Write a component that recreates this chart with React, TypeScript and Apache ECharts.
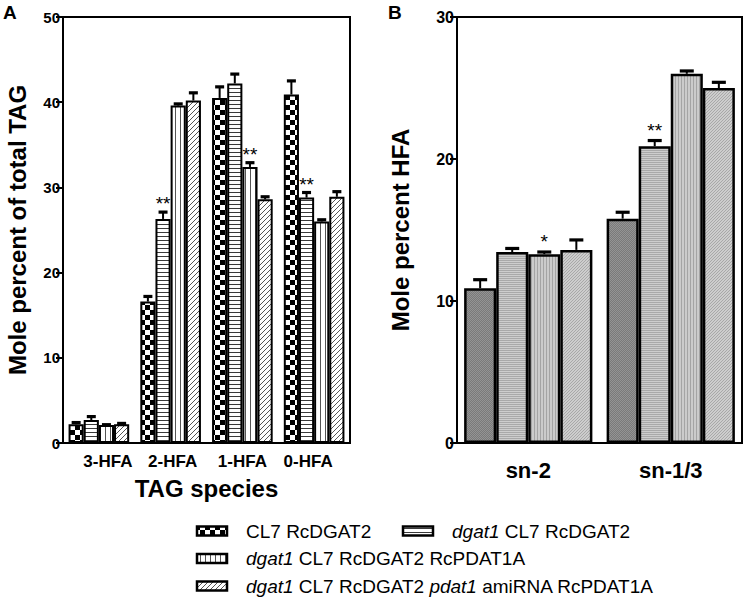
import React, { useEffect, useRef } from 'react';
import * as echarts from 'echarts';

const FONT = 'Arial, "Liberation Sans", Helvetica, sans-serif';

// ---------- data ----------
const seriesNames = [
  'CL7 RcDGAT2',
  'dgat1 CL7 RcDGAT2',
  'dgat1 CL7 RcDGAT2 RcPDAT1A',
  'dgat1 CL7 RcDGAT2 pdat1 amiRNA RcPDAT1A',
];

// Panel A: TAG species
const categoriesA = ['3-HFA', '2-HFA', '1-HFA', '0-HFA'];
const cl7A = [2.2, 16.6, 40.5, 40.9];
const cl7AErr = [0.2, 0.6, 1.3, 1.6];
const dgat1A = [2.7, 26.3, 42.2, 28.8];
const dgat1AErr = [0.4, 0.8, 1.1, 0.6];
const pdatA = [2.1, 39.6, 32.4, 26.0];
const pdatAErr = [0.05, 0.2, 0.5, 0.2];
const amiA = [2.2, 40.2, 28.6, 28.9];
const amiAErr = [0.1, 0.9, 0.3, 0.6];
const cl7ASig = ['', '', '', ''];
const dgat1ASig = ['', '**', '', '**'];
const pdatASig = ['', '', '**', ''];
const amiASig = ['', '', '', ''];
const ticksA = { min: 0, max: 50, interval: 10 };

// Panel B: positional HFA
const categoriesB = ['sn-2', 'sn-1/3'];
const cl7B = [10.9, 15.8];
const cl7BErr = [0.6, 0.45];
const dgat1B = [13.45, 20.9];
const dgat1BErr = [0.25, 0.4];
const pdatB = [13.3, 26.0];
const pdatBErr = [0.15, 0.2];
const amiB = [13.6, 25.0];
const amiBErr = [0.7, 0.4];
const cl7BSig = ['', ''];
const dgat1BSig = ['', '**'];
const pdatBSig = ['*', ''];
const amiBSig = ['', ''];
const ticksB = { min: 0, max: 30, interval: 10 };

// horizontal nudges of panel A category labels (px), as in the original figure
const labelShiftA = [9, 2, 0, -6];

// ---------- patterns ----------
function makePattern(w: number, h: number, draw: (ctx: CanvasRenderingContext2D) => void) {
  const c = document.createElement('canvas');
  c.width = w;
  c.height = h;
  const ctx = c.getContext('2d') as CanvasRenderingContext2D;
  draw(ctx);
  return { image: c.toDataURL(), repeat: 'repeat', imageWidth: w, imageHeight: h } as any;
}

function buildPatterns() {
  const checker = makePattern(10, 10, (ctx) => {
    ctx.fillStyle = '#fff';
    ctx.fillRect(0, 0, 10, 10);
    ctx.fillStyle = '#000';
    ctx.fillRect(0, 0, 5, 5);
    ctx.fillRect(5, 5, 5, 5);
  });
  const horiz = makePattern(4, 4, (ctx) => {
    ctx.fillStyle = '#fff';
    ctx.fillRect(0, 0, 4, 4);
    ctx.fillStyle = '#3a3a3a';
    ctx.fillRect(0, 0, 4, 1);
  });
  const vert = makePattern(5, 5, (ctx) => {
    ctx.fillStyle = '#fff';
    ctx.fillRect(0, 0, 5, 5);
    ctx.fillStyle = '#555';
    ctx.fillRect(0, 0, 1, 5);
  });
  const diag = makePattern(5, 5, (ctx) => {
    ctx.fillStyle = '#fff';
    ctx.fillRect(0, 0, 5, 5);
    ctx.fillStyle = '#555';
    for (let k = 0; k < 5; k++) {
      ctx.fillRect(k, 4 - k, 1, 1);
    }
  });
  // Panel B grey textures
  const gCross = makePattern(2, 2, (ctx) => {
    ctx.fillStyle = '#7a7a7a';
    ctx.fillRect(0, 0, 2, 2);
    ctx.fillStyle = '#949494';
    ctx.fillRect(0, 0, 1, 1);
    ctx.fillRect(1, 1, 1, 1);
  });
  const gHoriz = makePattern(2, 2, (ctx) => {
    ctx.fillStyle = '#cdcdcd';
    ctx.fillRect(0, 0, 2, 2);
    ctx.fillStyle = '#a9a9a9';
    ctx.fillRect(0, 0, 2, 1);
  });
  const gVert = makePattern(3, 3, (ctx) => {
    ctx.fillStyle = '#cbcbcb';
    ctx.fillRect(0, 0, 3, 3);
    ctx.fillStyle = '#a4a4a4';
    ctx.fillRect(0, 0, 1, 3);
  });
  const gDiag = makePattern(3, 3, (ctx) => {
    ctx.fillStyle = '#cdcdcd';
    ctx.fillRect(0, 0, 3, 3);
    ctx.fillStyle = '#a8a8a8';
    ctx.fillRect(0, 2, 1, 1);
    ctx.fillRect(1, 1, 1, 1);
    ctx.fillRect(2, 0, 1, 1);
  });
  return { A: [checker, horiz, vert, diag], B: [gCross, gHoriz, gVert, gDiag] };
}

const GAP_A = 0.155;
const GAP_B = 0.1;

function barSeries(name: string, data: number[], fill: any, axisIdx: number, gap: number, bw: number) {
  return {
    name,
    type: 'bar',
    xAxisIndex: axisIdx,
    yAxisIndex: axisIdx,
    data,
    barGap: '0%',
    barCategoryGap: `${gap * 100}%`,
    itemStyle: { color: fill, borderColor: '#000', borderWidth: bw },
    emphasis: { disabled: true },
    z: 2,
  };
}

function errSeries(
  values: number[],
  errs: number[],
  sigs: string[],
  idx: number,
  n: number,
  gap: number,
  axisIdx: number,
  capW: number,
  sigOffset: number
) {
  return {
    type: 'custom',
    xAxisIndex: axisIdx,
    yAxisIndex: axisIdx,
    data: values.map((v, k) => [k, v, errs[k]]),
    encode: { x: 0, y: 1 },
    z: 5,
    silent: true,
    renderItem: (params: any, api: any) => {
      const ci = api.value(0);
      const v = api.value(1);
      const e = api.value(2);
      const base = api.coord([ci, v]);
      const top = api.coord([ci, v + e]);
      const band = api.size([1, 0])[0];
      const groupW = band * (1 - gap);
      const bw = groupW / n;
      const x = base[0] - groupW / 2 + (idx + 0.5) * bw;
      const children: any[] = [
        { type: 'line', shape: { x1: x, y1: base[1], x2: x, y2: top[1] }, style: { stroke: '#000', lineWidth: 2 } },
        {
          type: 'line',
          shape: { x1: x - capW / 2, y1: top[1], x2: x + capW / 2, y2: top[1] },
          style: { stroke: '#000', lineWidth: 3.2 },
        },
      ];
      const s = sigs[params.dataIndex];
      if (s) {
        children.push({
          type: 'text',
          x,
          y: top[1] - sigOffset,
          style: {
            text: s,
            fill: '#000',
            font: `19px ${FONT}`,
            align: 'center',
            verticalAlign: 'top',
          },
        });
      }
      return { type: 'group', children };
    },
  };
}

function buildOption() {
  const pat = buildPatterns();
  const axisLineStyle = { show: true, lineStyle: { color: '#000', width: 2 } };

  const legendRow = (x: number, y: number, fill: any, rich: string) => [
    {
      type: 'rect',
      shape: { x, y: y - 4.5, width: 30, height: 9 },
      style: { fill, stroke: '#000', lineWidth: 2.5 },
    },
    {
      type: 'text',
      x: x + 49,
      y,
      style: {
        text: rich,
        verticalAlign: 'middle',
        align: 'left',
        fill: '#000',
        font: `19px ${FONT}`,
        rich: {
          i: { font: `italic 19px ${FONT}`, fill: '#000' },
          n: { font: `19px ${FONT}`, fill: '#000' },
        },
      },
    },
  ];

  const richA: any = {};
  labelShiftA.forEach((s, k) => {
    richA['p' + k] = {
      fontWeight: 'bold',
      fontSize: 17,
      fontFamily: FONT,
      color: '#000',
      padding: s >= 0 ? [0, 0, 0, 2 * s] : [0, -2 * s, 0, 0],
    };
  });

  return {
    animation: false,
    backgroundColor: '#fff',
    grid: [
      { left: 63, top: 17, width: 287, height: 426, show: true, borderColor: '#000', borderWidth: 2, backgroundColor: 'transparent' },
      { left: 457, top: 17, width: 285, height: 426, show: true, borderColor: '#000', borderWidth: 2, backgroundColor: 'transparent' },
    ],
    xAxis: [
      {
        type: 'category',
        gridIndex: 0,
        data: categoriesA,
        axisLine: axisLineStyle,
        axisTick: { show: false },
        axisLabel: {
          interval: 0,
          hideOverlap: false,
          color: '#000',
          fontWeight: 'bold',
          fontSize: 17,
          fontFamily: FONT,
          margin: 10,
          formatter: (v: string, i: number) => `{p${i}|${v}}`,
          rich: richA,
        },
        name: 'TAG species',
        nameLocation: 'middle',
        nameGap: 33,
        nameTextStyle: { color: '#000', fontWeight: 'bold', fontSize: 24, fontFamily: FONT },
      },
      {
        type: 'category',
        gridIndex: 1,
        data: categoriesB,
        axisLine: axisLineStyle,
        axisTick: { show: false },
        axisLabel: { interval: 0, color: '#000', fontWeight: 'bold', fontSize: 22, fontFamily: FONT, margin: 16 },
      },
    ],
    yAxis: [
      {
        type: 'value',
        gridIndex: 0,
        ...ticksA,
        axisLine: axisLineStyle,
        axisTick: { show: true, length: 7, lineStyle: { color: '#000', width: 2 } },
        axisLabel: { color: '#000', fontWeight: 'bold', fontSize: 15, fontFamily: FONT, margin: 3 },
        splitLine: { show: false },
        name: 'Mole percent of total TAG',
        nameLocation: 'middle',
        nameGap: 34,
        nameTextStyle: { color: '#000', fontWeight: 'bold', fontSize: 24, fontFamily: FONT },
      },
      {
        type: 'value',
        gridIndex: 1,
        ...ticksB,
        axisLine: axisLineStyle,
        axisTick: { show: true, length: 7, lineStyle: { color: '#000', width: 2 } },
        axisLabel: { color: '#000', fontWeight: 'bold', fontSize: 16, fontFamily: FONT, margin: 3 },
        splitLine: { show: false },
        name: 'Mole percent HFA',
        nameLocation: 'middle',
        nameGap: 45,
        nameTextStyle: { color: '#000', fontWeight: 'bold', fontSize: 24, fontFamily: FONT },
      },
    ],
    series: [
      barSeries(seriesNames[0], cl7A, pat.A[0], 0, GAP_A, 2),
      barSeries(seriesNames[1], dgat1A, pat.A[1], 0, GAP_A, 2),
      barSeries(seriesNames[2], pdatA, pat.A[2], 0, GAP_A, 2),
      barSeries(seriesNames[3], amiA, pat.A[3], 0, GAP_A, 2),
      barSeries(seriesNames[0], cl7B, pat.B[0], 1, GAP_B, 2.5),
      barSeries(seriesNames[1], dgat1B, pat.B[1], 1, GAP_B, 2.5),
      barSeries(seriesNames[2], pdatB, pat.B[2], 1, GAP_B, 2.5),
      barSeries(seriesNames[3], amiB, pat.B[3], 1, GAP_B, 2.5),
      errSeries(cl7A, cl7AErr, cl7ASig, 0, 4, GAP_A, 0, 9, 18),
      errSeries(dgat1A, dgat1AErr, dgat1ASig, 1, 4, GAP_A, 0, 9, 18),
      errSeries(pdatA, pdatAErr, pdatASig, 2, 4, GAP_A, 0, 9, 18),
      errSeries(amiA, amiAErr, amiASig, 3, 4, GAP_A, 0, 9, 18),
      errSeries(cl7B, cl7BErr, cl7BSig, 0, 4, GAP_B, 1, 14, 20),
      errSeries(dgat1B, dgat1BErr, dgat1BSig, 1, 4, GAP_B, 1, 14, 20),
      errSeries(pdatB, pdatBErr, pdatBSig, 2, 4, GAP_B, 1, 14, 20),
      errSeries(amiB, amiBErr, amiBSig, 3, 4, GAP_B, 1, 14, 20),
    ],
    graphic: [
      {
        type: 'text',
        left: 3,
        top: 3,
        style: { text: 'A', fill: '#000', font: `bold 19px ${FONT}` },
      },
      {
        type: 'text',
        left: 388,
        top: 3,
        style: { text: 'B', fill: '#000', font: `bold 19px ${FONT}` },
      },
      ...legendRow(197, 531, pat.A[0], '{n|CL7 RcDGAT2}'),
      ...legendRow(403, 531, pat.A[1], '{i|dgat1}{n| CL7 RcDGAT2}'),
      ...legendRow(197, 558.5, pat.A[2], '{i|dgat1}{n| CL7 RcDGAT2 RcPDAT1A}'),
      ...legendRow(197, 586, pat.A[3], '{i|dgat1}{n| CL7 RcDGAT2 }{i|pdat1}{n| amiRNA RcPDAT1A}'),
    ],
  };
}

export default function App() {
  const ref = useRef<HTMLDivElement>(null);
  useEffect(() => {
    if (!ref.current) return;
    const chart = echarts.init(ref.current, undefined, { renderer: 'svg' });
    chart.setOption(buildOption() as any);
    return () => chart.dispose();
  }, []);
  return (
    <div
      ref={ref}
      style={{ position: 'fixed', left: 0, top: 0, width: 745, height: 599, background: '#fff' }}
    />
  );
}
